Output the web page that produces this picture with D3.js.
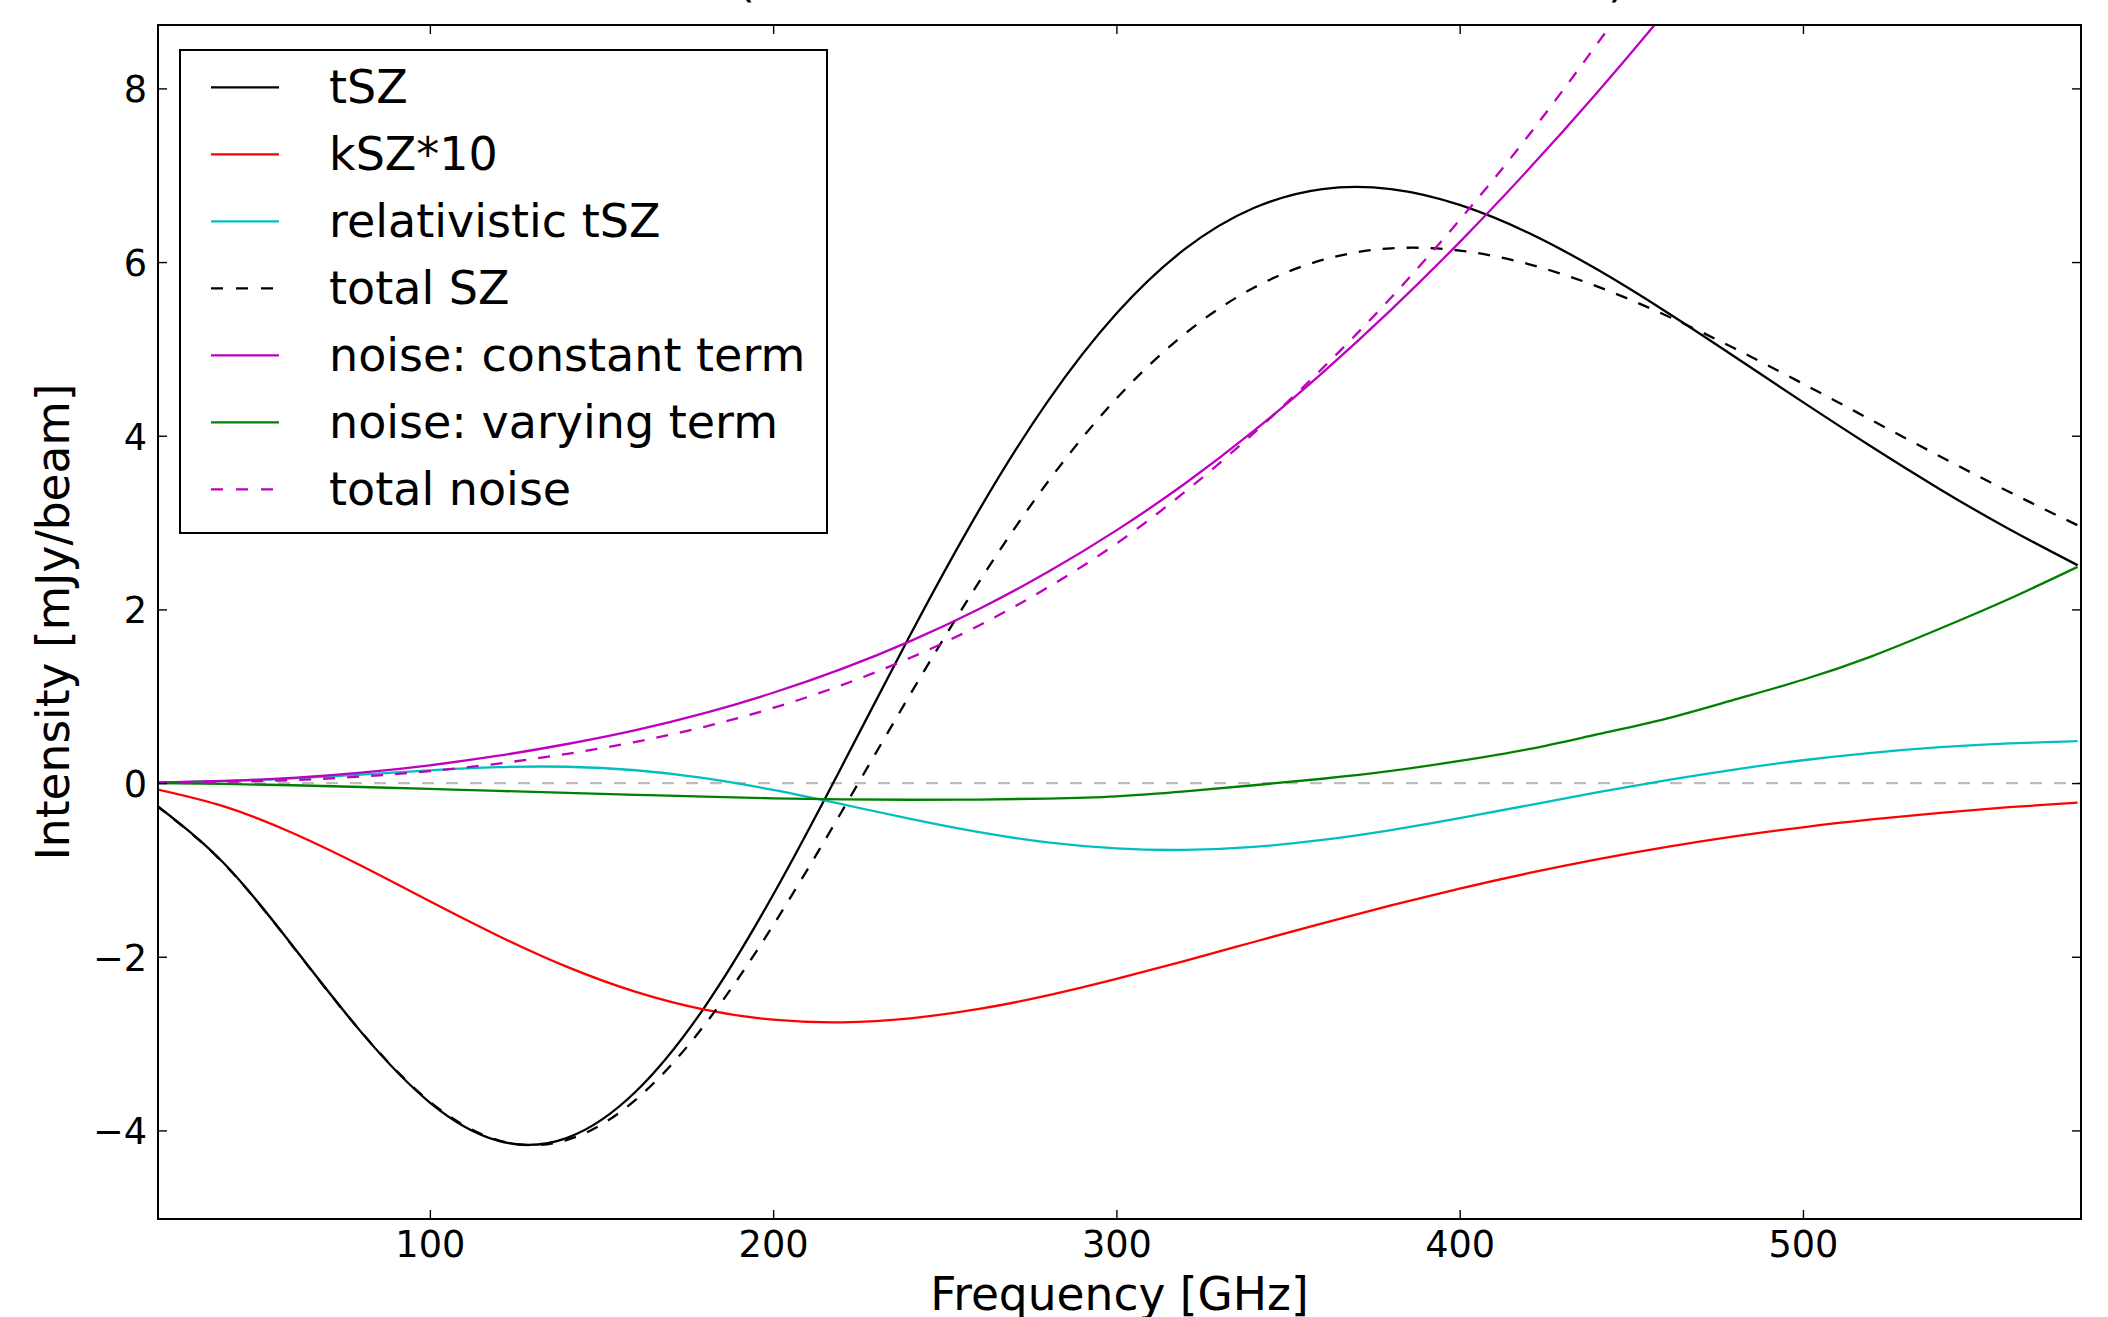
<!DOCTYPE html>
<html><head><meta charset="utf-8">
<script src="https://cdn.jsdelivr.net/npm/d3@7"></script>
<style>
html,body{margin:0;padding:0;background:#fff;}
svg{display:block;}
text{font-family:"DejaVu Sans",sans-serif;fill:#000;}
</style>
</head><body>
<svg id="chart" width="2108" height="1317"></svg>
<script>
// ---- data ----
const freq = [20,40,60,80,100,120,140,160,180,200,220,240,260,280,300,320,340,360,380,400,420,440,460,480,500,520,540,560,580];
const tSZ = [-0.246,-0.924,-1.873,-2.868,-3.679,-4.120,-4.085,-3.552,-2.582,-1.286,0.192,1.710,3.143,4.396,5.407,6.151,6.622,6.841,6.840,6.658,6.337,5.916,5.431,4.913,4.387,3.873,3.382,2.926,2.509];
const kSZx10 = [-0.069,-0.269,-0.575,-0.952,-1.361,-1.760,-2.117,-2.405,-2.609,-2.725,-2.755,-2.709,-2.601,-2.445,-2.255,-2.047,-1.830,-1.615,-1.408,-1.215,-1.038,-0.879,-0.738,-0.615,-0.509,-0.419,-0.342,-0.278,-0.225];
const relTSZ = [0.005,0.023,0.054,0.098,0.147,0.183,0.188,0.148,0.057,-0.079,-0.243,-0.413,-0.566,-0.684,-0.753,-0.770,-0.735,-0.655,-0.541,-0.404,-0.256,-0.108,0.031,0.156,0.263,0.348,0.413,0.457,0.483];
const totalSZ = [-0.248,-0.928,-1.877,-2.865,-3.668,-4.113,-4.109,-3.645,-2.786,-1.638,-0.327,1.026,2.317,3.467,4.428,5.176,5.704,6.024,6.158,6.132,5.977,5.720,5.388,5.007,4.599,4.179,3.761,3.355,2.969];
const noiseConst = [0.005,0.025,0.060,0.120,0.205,0.315,0.450,0.610,0.805,1.040,1.315,1.635,2.005,2.430,2.910,3.450,4.055,4.725,5.450,6.230,7.065,7.950,8.885,9.875,10.915,12.000,13.140,14.330,15.570];
const noiseVar = [0.000,-0.010,-0.025,-0.045,-0.067,-0.090,-0.113,-0.135,-0.157,-0.175,-0.187,-0.192,-0.190,-0.178,-0.152,-0.095,-0.025,0.050,0.140,0.255,0.390,0.560,0.740,0.960,1.190,1.460,1.780,2.120,2.490];
const totalNoise = [0.005,0.015,0.035,0.075,0.138,0.225,0.337,0.475,0.648,0.865,1.128,1.443,1.815,2.252,2.758,3.355,4.030,4.775,5.590,6.485,7.455,8.510,9.625,10.835,12.105,13.460,14.920,16.450,18.060];
const seriesNames = ["tSZ","kSZ*10","relativistic tSZ","total SZ","noise: constant term","noise: varying term","total noise"];
const xTicks = [100,200,300,400,500];
const yTicks = [-4,-2,0,2,4,6,8];
const xLabel = "Frequency [GHz]";
const yLabel = "Intensity [mJy/beam]";

// ---- layout / styles ----
const seriesValues = [tSZ,kSZx10,relTSZ,totalSZ,noiseConst,noiseVar,totalNoise];
const colors = ["#000000","#ff0000","#00bfbf","#000000","#bf00bf","#008000","#bf00bf"];
const dashed = [false,false,false,true,false,false,true];

const L=158, T=25, R=2081, B=1219;
const svg = d3.select("#chart");
svg.append("rect").attr("width",2108).attr("height",1317).attr("fill","#fff");

const x = d3.scaleLinear().domain([20.8,581]).range([L,R]);
const y = d3.scaleLinear().domain([-5.02,8.73]).range([B,T]);

svg.append("defs").append("clipPath").attr("id","plotclip")
  .append("rect").attr("x",L).attr("y",T).attr("width",R-L).attr("height",B-T);

// cropped title remnants
svg.append("text").attr("x",746).attr("y",-4).attr("font-size",46).attr("text-anchor","middle").text("(");
svg.append("text").attr("x",1617).attr("y",-4).attr("font-size",46).attr("text-anchor","middle").text(")");

const plot = svg.append("g").attr("clip-path","url(#plotclip)");

// zero reference line
plot.append("line").attr("x1",x(20.8)).attr("x2",x(581)).attr("y1",y(0)).attr("y2",y(0))
  .attr("stroke","#bdbdbd").attr("stroke-width",2.2).attr("stroke-dasharray","12,12");

const line = d3.line().x((d,i)=>x(freq[i])).y(d=>y(d)).curve(d3.curveNatural);
seriesValues.forEach((vals,k)=>{
  plot.append("path").attr("d",line(vals)).attr("fill","none")
    .attr("stroke",colors[k]).attr("stroke-width",2.3)
    .attr("stroke-dasharray",dashed[k]?"12,12":null);
});

// axes with inward ticks
const xb = svg.append("g").attr("transform",`translate(0,${B})`)
  .call(d3.axisBottom(x).tickValues(xTicks).tickSizeInner(-9).tickSizeOuter(0).tickPadding(0).tickFormat(d3.format("d")));
const xt = svg.append("g").attr("transform",`translate(0,${T})`)
  .call(d3.axisTop(x).tickValues(xTicks).tickSizeInner(-9).tickSizeOuter(0).tickFormat(""));
const yl = svg.append("g").attr("transform",`translate(${L},0)`)
  .call(d3.axisLeft(y).tickValues(yTicks).tickSizeInner(-9).tickSizeOuter(0).tickFormat(d=>d<0?"\u2212"+Math.abs(d):String(d)));
const yr = svg.append("g").attr("transform",`translate(${R},0)`)
  .call(d3.axisRight(y).tickValues(yTicks).tickSizeInner(-9).tickSizeOuter(0).tickFormat(""));
[xb,xt,yl,yr].forEach(g=>{
  g.select(".domain").remove();
  g.selectAll(".tick line").attr("stroke","#000").attr("stroke-width",1.4);
});
xb.selectAll(".tick text").attr("font-family","DejaVu Sans").attr("font-size",36.7).attr("fill","#000")
  .attr("dy",null).attr("y",1257-B).attr("text-anchor","middle");
yl.selectAll(".tick text").attr("font-family","DejaVu Sans").attr("font-size",36.7).attr("fill","#000")
  .attr("dy",null).attr("x",147-L).attr("y",13.5).attr("text-anchor","end");

// frame
svg.append("rect").attr("x",L).attr("y",T).attr("width",R-L).attr("height",B-T)
  .attr("fill","none").attr("stroke","#000").attr("stroke-width",2);

// axis labels
svg.append("text").attr("x",(L+R)/2).attr("y",1310).attr("text-anchor","middle")
  .attr("font-size",45.5).text(xLabel);
svg.append("text").attr("transform",`translate(69,${(T+B)/2}) rotate(-90)`).attr("text-anchor","middle")
  .attr("font-size",45.5).text(yLabel);

// legend
const lg = svg.append("g");
lg.append("rect").attr("x",180).attr("y",50).attr("width",647).attr("height",483)
  .attr("fill","#fff").attr("stroke","#000").attr("stroke-width",2);
seriesNames.forEach((name,k)=>{
  const ry = 87.3 + k*67;
  lg.append("line").attr("x1",211).attr("x2",279).attr("y1",ry).attr("y2",ry)
    .attr("stroke",colors[k]).attr("stroke-width",2.3)
    .attr("stroke-dasharray",dashed[k]?"12,13":null);
  lg.append("text").attr("x",329).attr("y",ry+16).attr("font-size",46).text(name);
});
</script>
</body></html>
